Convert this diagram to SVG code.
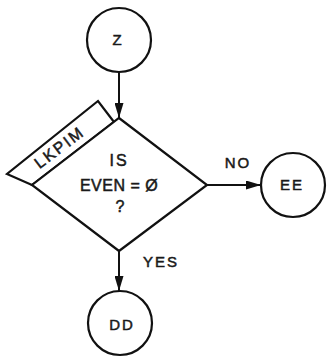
<svg xmlns="http://www.w3.org/2000/svg" width="328" height="358" viewBox="0 0 328 358">
<defs>
<marker id="ah" viewBox="0 0 15 9" refX="15" refY="4.5" markerWidth="15" markerHeight="9" markerUnits="userSpaceOnUse" orient="auto">
<path d="M0,0 L15,4.5 L0,9 Z" fill="#111"/>
</marker>
<style>
.s{fill:#fff;stroke:#111;stroke-width:2.2;stroke-linejoin:miter}
.t{font-family:"Liberation Sans",Arial,sans-serif;font-size:15px;fill:#1a1a1a;stroke:#1a1a1a;stroke-width:0.5;text-anchor:middle;letter-spacing:2px}
.b{font-size:16px}
.c{stroke:#111;stroke-width:2;fill:none}
</style>
</defs>
<rect width="328" height="358" fill="#fff"/>
<g id="connectors">
<line class="c" x1="119" y1="72" x2="119" y2="118" marker-end="url(#ah)"/>
<line class="c" x1="207" y1="185" x2="261" y2="185" marker-end="url(#ah)"/>
<line class="c" x1="119" y1="251" x2="119" y2="291" marker-end="url(#ah)"/>
<text class="t" x="238" y="168">NO</text>
<text class="t" x="161" y="267">YES</text>
</g>
<g id="Z">
<circle class="s" cx="119" cy="40" r="32"/>
<text class="t" x="118" y="45">Z</text>
</g>
<g id="decision">
<polygon class="s" points="114,122 98,101 7,174 32,185"/>
<polygon class="s" points="119,118 207,185 119,251 32,185"/>
<text class="t b" transform="translate(59,147) rotate(-37)" x="0" y="6">LKPIM</text>
<text class="t b" x="119" y="166">IS</text>
<text class="t b" x="119" y="191" style="letter-spacing:0.5px">EVEN = Ø</text>
<text class="t b" x="121" y="212">?</text>
</g>
<g id="EE">
<circle class="s" cx="293" cy="185" r="32"/>
<text class="t" x="292" y="190">EE</text>
</g>
<g id="DD">
<circle class="s" cx="120" cy="323" r="32"/>
<text class="t" x="122" y="330">DD</text>
</g>
</svg>
